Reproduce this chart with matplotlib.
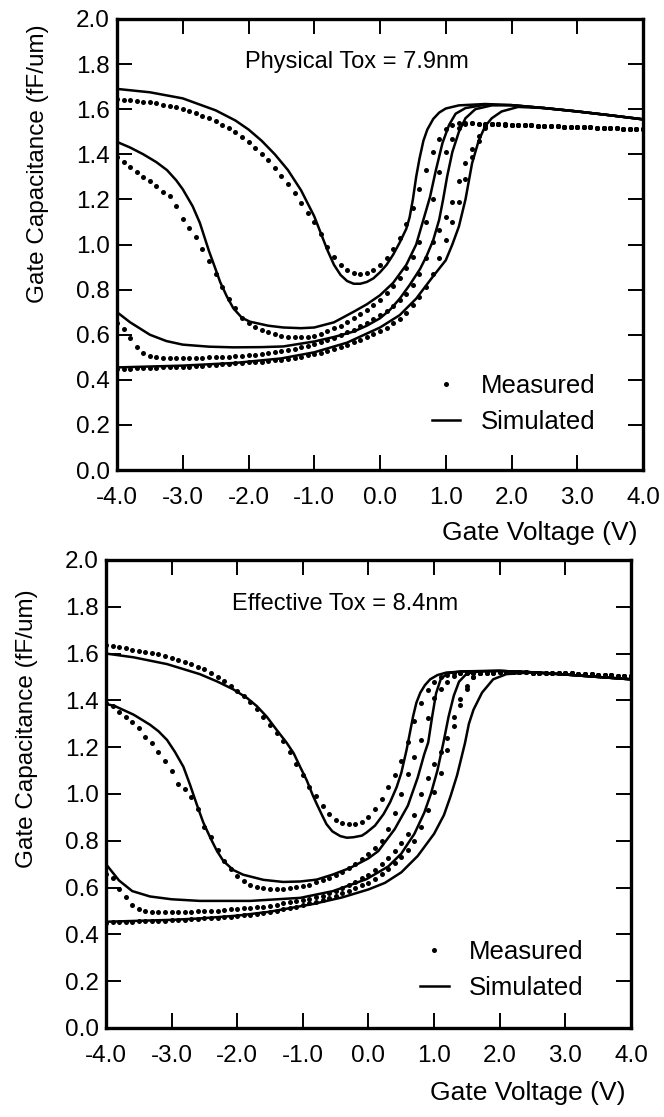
import numpy as np
import matplotlib
matplotlib.use("Agg")
import matplotlib.pyplot as plt
from matplotlib.lines import Line2D

plt.rcParams['font.family'] = ['Liberation Sans', 'DejaVu Sans']
plt.rcParams['axes.unicode_minus'] = False

# measured sweep: 0.1 V steps from -4 to 4
v_meas = np.linspace(-4.0, 4.0, 81)

# ---------------- top panel (Physical Tox = 7.9nm) ----------------
top_m1 = [1.645, 1.643, 1.640, 1.637, 1.633, 1.630, 1.626, 1.620, 1.615, 1.608,
          1.600, 1.592, 1.583, 1.572, 1.560, 1.547, 1.532, 1.515, 1.497, 1.477,
          1.455, 1.430, 1.403, 1.373, 1.340, 1.303, 1.268, 1.228, 1.185, 1.140,
          1.100, 1.045, 0.990, 0.945, 0.910, 0.886, 0.874, 0.870, 0.875, 0.888,
          0.910, 0.940, 0.980, 1.030, 1.090, 1.160, 1.245, 1.330, 1.410, 1.470,
          1.510, 1.530, 1.537, 1.537, 1.537, 1.536, 1.535, 1.534, 1.533, 1.532,
          1.531, 1.530, 1.529, 1.528, 1.527, 1.526, 1.525, 1.524, 1.523, 1.522,
          1.521, 1.520, 1.519, 1.518, 1.517, 1.516, 1.515, 1.514, 1.513, 1.512, 1.511]
top_m2 = [1.390, 1.367, 1.345, 1.322, 1.300, 1.280, 1.258, 1.235, 1.215, 1.170,
          1.115, 1.075, 1.035, 0.980, 0.925, 0.870, 0.810, 0.760, 0.720, 0.675,
          0.650, 0.635, 0.622, 0.612, 0.603, 0.596, 0.592, 0.590, 0.590, 0.592,
          0.596, 0.605, 0.615, 0.628, 0.640, 0.655, 0.672, 0.690, 0.710, 0.730,
          0.755, 0.785, 0.815, 0.850, 0.895, 0.945, 1.010, 1.100, 1.200, 1.320,
          1.410, 1.470, 1.515, 1.535, 1.537, 1.536, 1.535, 1.534, 1.533, 1.532,
          1.531, 1.530, 1.529, 1.528, 1.527, 1.526, 1.525, 1.524, 1.523, 1.522,
          1.521, 1.520, 1.519, 1.518, 1.517, 1.516, 1.515, 1.514, 1.513, 1.512, 1.511]
top_m3 = [0.650, 0.625, 0.585, 0.545, 0.520, 0.507, 0.500, 0.498, 0.497, 0.497,
          0.497, 0.497, 0.498, 0.498, 0.499, 0.500, 0.501, 0.502, 0.504, 0.506,
          0.508, 0.511, 0.514, 0.518, 0.522, 0.527, 0.532, 0.538, 0.545, 0.552,
          0.560, 0.568, 0.577, 0.587, 0.598, 0.610, 0.623, 0.637, 0.652, 0.668,
          0.686, 0.706, 0.728, 0.752, 0.780, 0.820, 0.870, 0.940, 1.010, 1.065,
          1.120, 1.190, 1.280, 1.360, 1.425, 1.480, 1.525, 1.535, 1.534, 1.533,
          1.531, 1.530, 1.529, 1.528, 1.527, 1.526, 1.525, 1.524, 1.523, 1.522,
          1.521, 1.520, 1.519, 1.518, 1.517, 1.516, 1.515, 1.514, 1.513, 1.512, 1.511]
top_m4 = [0.448, 0.449, 0.450, 0.451, 0.452, 0.453, 0.454, 0.455, 0.456, 0.457,
          0.458, 0.459, 0.461, 0.463, 0.465, 0.467, 0.469, 0.471, 0.473, 0.475,
          0.477, 0.479, 0.481, 0.484, 0.487, 0.490, 0.494, 0.498, 0.503, 0.509,
          0.515, 0.521, 0.528, 0.536, 0.545, 0.555, 0.566, 0.577, 0.589, 0.602,
          0.615, 0.632, 0.650, 0.670, 0.698, 0.730, 0.768, 0.810, 0.870, 0.940,
          1.020, 1.100, 1.190, 1.290, 1.390, 1.460, 1.515, 1.535, 1.534, 1.533,
          1.531, 1.530, 1.529, 1.528, 1.527, 1.526, 1.525, 1.524, 1.523, 1.522,
          1.521, 1.520, 1.519, 1.518, 1.517, 1.516, 1.515, 1.514, 1.513, 1.512, 1.511]

top_s1_v = [-4.0, -3.5, -3.0, -2.5, -2.2, -2.0, -1.8, -1.6, -1.4, -1.2, -1.0, -0.9, -0.8,
            -0.7, -0.6, -0.5, -0.4, -0.3, -0.2, -0.1, 0.0, 0.1, 0.2, 0.3, 0.4, 0.45, 0.5,
            0.55, 0.6, 0.66, 0.72, 0.81, 0.9, 1.0, 1.2, 1.6, 2.0, 2.5, 3.0, 3.5, 4.0]
top_s1_c = [1.690, 1.675, 1.648, 1.595, 1.550, 1.510, 1.460, 1.400, 1.330, 1.240, 1.125,
            1.050, 0.975, 0.910, 0.865, 0.838, 0.826, 0.826, 0.834, 0.850, 0.877, 0.910,
            0.955, 1.009, 1.070, 1.120, 1.200, 1.300, 1.380, 1.460, 1.510, 1.557, 1.585,
            1.603, 1.617, 1.623, 1.618, 1.605, 1.590, 1.573, 1.555]
top_s2_v = [-4.0, -3.8, -3.6, -3.4, -3.24, -3.1, -3.0, -2.85, -2.74, -2.6, -2.5, -2.43,
            -2.33, -2.23, -2.1, -1.98, -1.7, -1.47, -1.2, -1.0, -0.7, -0.4, -0.2, 0.0, 0.2,
            0.4, 0.55, 0.65, 0.76, 0.85, 0.95, 1.05, 1.15, 1.3, 1.6, 2.0, 2.5, 3.0, 3.5, 4.0]
top_s2_c = [1.455, 1.430, 1.400, 1.365, 1.330, 1.285, 1.245, 1.170, 1.096, 0.970, 0.890,
            0.833, 0.770, 0.717, 0.675, 0.658, 0.640, 0.632, 0.629, 0.632, 0.655, 0.702,
            0.735, 0.775, 0.830, 0.910, 1.000, 1.100, 1.210, 1.330, 1.450, 1.530, 1.580,
            1.605, 1.620, 1.618, 1.605, 1.590, 1.573, 1.555]
top_s3_v = [-4.0, -3.8, -3.5, -3.25, -3.0, -2.6, -2.23, -1.8, -1.47, -1.0, -0.7, -0.4, -0.2,
            0.0, 0.15, 0.3, 0.45, 0.61, 0.71, 0.81, 0.9, 0.96, 1.02, 1.1, 1.2, 1.3, 1.45,
            1.7, 2.0, 2.5, 3.0, 3.5, 4.0]
top_s3_c = [0.700, 0.655, 0.600, 0.572, 0.556, 0.547, 0.544, 0.545, 0.548, 0.570, 0.590,
            0.614, 0.640, 0.673, 0.710, 0.760, 0.820, 0.892, 0.950, 1.020, 1.110, 1.200,
            1.300, 1.410, 1.500, 1.560, 1.600, 1.617, 1.618, 1.605, 1.590, 1.573, 1.555]
top_s4_v = [-4.0, -3.0, -2.2, -1.5, -1.0, -0.5, 0.0, 0.3, 0.55, 0.81, 1.0, 1.1, 1.2, 1.3,
            1.4, 1.5, 1.6, 1.7, 1.85, 2.1, 2.5, 3.0, 3.5, 4.0]
top_s4_c = [0.455, 0.463, 0.475, 0.495, 0.522, 0.565, 0.632, 0.687, 0.760, 0.860, 0.930,
            1.000, 1.080, 1.200, 1.360, 1.460, 1.525, 1.560, 1.590, 1.610, 1.605, 1.590,
            1.573, 1.555]

# ---------------- bottom panel (Effective Tox = 8.4nm) ----------------
bot_m1 = [1.637, 1.632, 1.627, 1.622, 1.617, 1.612, 1.608, 1.604, 1.598, 1.590,
          1.582, 1.574, 1.566, 1.556, 1.544, 1.532, 1.517, 1.500, 1.482, 1.463,
          1.442, 1.418, 1.392, 1.362, 1.330, 1.296, 1.262, 1.225, 1.180, 1.130,
          1.080, 1.030, 0.990, 0.950, 0.915, 0.890, 0.875, 0.870, 0.872, 0.882,
          0.900, 0.935, 0.980, 1.030, 1.080, 1.140, 1.220, 1.310, 1.390, 1.445,
          1.480, 1.500, 1.510, 1.515, 1.517, 1.518, 1.519, 1.519, 1.520, 1.520,
          1.520, 1.520, 1.520, 1.520, 1.520, 1.519, 1.518, 1.518, 1.517, 1.517,
          1.516, 1.515, 1.514, 1.513, 1.512, 1.510, 1.508, 1.507, 1.505, 1.504, 1.503]
bot_m2 = [1.390, 1.375, 1.352, 1.328, 1.307, 1.283, 1.245, 1.217, 1.180, 1.140,
          1.100, 1.044, 1.020, 0.985, 0.935, 0.860, 0.815, 0.760, 0.715, 0.680,
          0.650, 0.626, 0.612, 0.603, 0.598, 0.596, 0.595, 0.596, 0.598, 0.601,
          0.605, 0.613, 0.622, 0.632, 0.643, 0.655, 0.668, 0.683, 0.700, 0.720,
          0.742, 0.768, 0.800, 0.850, 0.920, 1.000, 1.085, 1.160, 1.230, 1.325,
          1.410, 1.450, 1.480, 1.505, 1.515, 1.518, 1.519, 1.519, 1.520, 1.520,
          1.520, 1.520, 1.520, 1.520, 1.520, 1.519, 1.518, 1.518, 1.517, 1.517,
          1.516, 1.515, 1.514, 1.513, 1.512, 1.510, 1.508, 1.507, 1.505, 1.504, 1.503]
bot_m3 = [0.660, 0.640, 0.595, 0.560, 0.525, 0.507, 0.500, 0.497, 0.497, 0.497,
          0.497, 0.497, 0.497, 0.497, 0.498, 0.499, 0.500, 0.502, 0.504, 0.507,
          0.510, 0.512, 0.514, 0.516, 0.519, 0.522, 0.526, 0.533, 0.538, 0.542,
          0.547, 0.552, 0.558, 0.566, 0.576, 0.586, 0.597, 0.610, 0.624, 0.639,
          0.655, 0.676, 0.700, 0.727, 0.755, 0.790, 0.830, 0.910, 1.000, 1.070,
          1.130, 1.180, 1.240, 1.330, 1.405, 1.460, 1.500, 1.515, 1.518, 1.519,
          1.520, 1.520, 1.520, 1.520, 1.520, 1.519, 1.518, 1.518, 1.517, 1.517,
          1.516, 1.515, 1.514, 1.513, 1.512, 1.510, 1.508, 1.507, 1.505, 1.504, 1.503]
bot_m4 = [0.450, 0.451, 0.452, 0.453, 0.454, 0.455, 0.456, 0.457, 0.458, 0.459,
          0.460, 0.461, 0.463, 0.464, 0.466, 0.468, 0.470, 0.472, 0.474, 0.476,
          0.478, 0.481, 0.484, 0.487, 0.491, 0.497, 0.502, 0.507, 0.513, 0.519,
          0.525, 0.532, 0.539, 0.546, 0.555, 0.565, 0.575, 0.586, 0.598, 0.610,
          0.620, 0.638, 0.657, 0.680, 0.705, 0.730, 0.762, 0.800, 0.860, 0.930,
          1.010, 1.090, 1.190, 1.290, 1.380, 1.450, 1.500, 1.515, 1.518, 1.519,
          1.520, 1.520, 1.520, 1.520, 1.520, 1.519, 1.518, 1.518, 1.517, 1.517,
          1.516, 1.515, 1.514, 1.513, 1.512, 1.510, 1.508, 1.507, 1.505, 1.504, 1.503]

bot_s1_v = [-4.0, -3.58, -3.07, -2.57, -2.3, -2.06, -1.85, -1.7, -1.55, -1.4, -1.25, -1.14,
            -1.04, -0.94, -0.85, -0.79, -0.7, -0.64, -0.55, -0.43, -0.33, -0.23, -0.1, -0.03,
            0.1, 0.23, 0.33, 0.43, 0.5, 0.58, 0.63, 0.68, 0.73, 0.79, 0.86, 0.94, 1.05, 1.19,
            1.5, 2.0, 2.5, 2.92, 3.5, 4.0]
bot_s1_c = [1.600, 1.584, 1.555, 1.512, 1.480, 1.447, 1.410, 1.375, 1.330, 1.274, 1.220,
            1.174, 1.115, 1.058, 0.995, 0.958, 0.905, 0.871, 0.840, 0.820, 0.813, 0.815,
            0.822, 0.835, 0.865, 0.914, 0.965, 1.030, 1.090, 1.188, 1.260, 1.332, 1.390,
            1.433, 1.465, 1.490, 1.508, 1.519, 1.524, 1.526, 1.520, 1.512, 1.500, 1.490]
bot_s2_v = [-4.0, -3.86, -3.58, -3.33, -3.2, -3.07, -2.95, -2.82, -2.72, -2.62, -2.52, -2.41,
            -2.31, -2.21, -2.06, -1.91, -1.6, -1.3, -1.04, -0.79, -0.55, -0.28, 0.0, 0.15,
            0.4, 0.6, 0.75, 0.85, 0.91, 0.97, 1.03, 1.1, 1.2, 1.4, 2.0, 2.5, 2.92, 3.5, 4.0]
bot_s2_c = [1.385, 1.375, 1.339, 1.296, 1.268, 1.231, 1.180, 1.116, 1.040, 0.958, 0.880,
            0.813, 0.757, 0.713, 0.675, 0.655, 0.633, 0.624, 0.626, 0.634, 0.655, 0.684,
            0.725, 0.756, 0.850, 0.950, 1.070, 1.170, 1.220, 1.330, 1.430, 1.490, 1.515,
            1.524, 1.526, 1.520, 1.512, 1.500, 1.490]
bot_s3_v = [-4.0, -3.8, -3.6, -3.33, -3.0, -2.57, -1.8, -1.04, -0.54, -0.03, 0.3, 0.5, 0.7,
            0.85, 0.95, 1.05, 1.14, 1.22, 1.3, 1.38, 1.5, 1.7, 2.0, 2.5, 2.92, 3.5, 4.0]
bot_s3_c = [0.700, 0.630, 0.585, 0.562, 0.550, 0.543, 0.543, 0.556, 0.585, 0.636, 0.690,
            0.745, 0.830, 0.920, 1.000, 1.100, 1.217, 1.330, 1.420, 1.480, 1.515, 1.524,
            1.526, 1.520, 1.512, 1.500, 1.490]
bot_s4_v = [-4.0, -3.0, -2.57, -2.0, -1.5, -0.84, -0.4, 0.0, 0.25, 0.5, 0.75, 1.0, 1.15,
            1.25, 1.35, 1.47, 1.53, 1.6, 1.73, 1.9, 2.1, 2.5, 2.92, 3.5, 4.0]
bot_s4_c = [0.454, 0.462, 0.468, 0.480, 0.497, 0.530, 0.558, 0.592, 0.620, 0.665, 0.735,
            0.830, 0.910, 0.990, 1.080, 1.217, 1.300, 1.360, 1.433, 1.490, 1.512, 1.520,
            1.512, 1.500, 1.490]

x_ticks = [-4, -3, -2, -1, 0, 1, 2, 3, 4]
x_labels = ['-4.0', '-3.0', '-2.0', '-1.0', '0.0', '1.0', '2.0', '3.0', '4.0']
y_ticks = [0.0, 0.2, 0.4, 0.6, 0.8, 1.0, 1.2, 1.4, 1.6, 1.8, 2.0]
y_labels = ['0.0', '0.2', '0.4', '0.6', '0.8', '1.0', '1.2', '1.4', '1.6', '1.8', '2.0']

FS = 17.5

fig = plt.figure(figsize=(6.64, 11.17), dpi=100)
ax_top = fig.add_axes([0.1762, 0.5792, 0.7922, 0.4038])
ax_bot = fig.add_axes([0.1596, 0.0797, 0.7907, 0.4190])


def draw_panel(ax, meas, sims, title, ylab_y, leg_y):
    for m in meas:
        ax.plot(v_meas, m, 'o', color='black', ms=3.6, mew=0)
    for sv, sc in sims:
        ax.plot(sv, sc, '-', color='black', lw=1.8, solid_capstyle='round')
    ax.set_xlim(-4, 4)
    ax.set_ylim(0, 2.0)
    ax.set_xticks(x_ticks)
    ax.set_xticklabels(x_labels)
    ax.set_yticks(y_ticks)
    ax.set_yticklabels(y_labels)
    ax.tick_params(axis='both', direction='in', length=11, width=1.4,
                   top=True, right=True, labelsize=FS)
    ax.tick_params(axis='x', pad=12)
    ax.tick_params(axis='y', pad=5)
    for sp in ax.spines.values():
        sp.set_linewidth(2.4)
    ax.set_ylabel('Gate Capacitance (fF/um)', fontsize=FS, va='center')
    ax.yaxis.set_label_coords(-0.15, ylab_y)
    ax.set_xlabel('Gate Voltage (V)', fontsize=19, loc='right', va='center')
    ax.xaxis.set_label_coords(0.99, -0.14)
    ax.text(-0.35, 1.81, title, fontsize=17, ha='center', va='center')
    handles = [Line2D([], [], marker='o', ls='none', color='black', ms=3.6, mew=0),
               Line2D([], [], color='black', lw=1.8)]
    ax.legend(handles, ['Measured', 'Simulated'], loc='lower right',
              bbox_to_anchor=(0.91, leg_y), frameon=False, fontsize=18.5,
              handlelength=1.1, handletextpad=0.8, labelspacing=0.45,
              borderpad=0, borderaxespad=0)


draw_panel(ax_top, [top_m1, top_m2, top_m3, top_m4],
           [(top_s1_v, top_s1_c), (top_s2_v, top_s2_c),
            (top_s3_v, top_s3_c), (top_s4_v, top_s4_c)],
           'Physical Tox = 7.9nm', 0.68, 0.08)
draw_panel(ax_bot, [bot_m1, bot_m2, bot_m3, bot_m4],
           [(bot_s1_v, bot_s1_c), (bot_s2_v, bot_s2_c),
            (bot_s3_v, bot_s3_c), (bot_s4_v, bot_s4_c)],
           'Effective Tox = 8.4nm', 0.64, 0.06)

fig.savefig('out.png', dpi=100)
